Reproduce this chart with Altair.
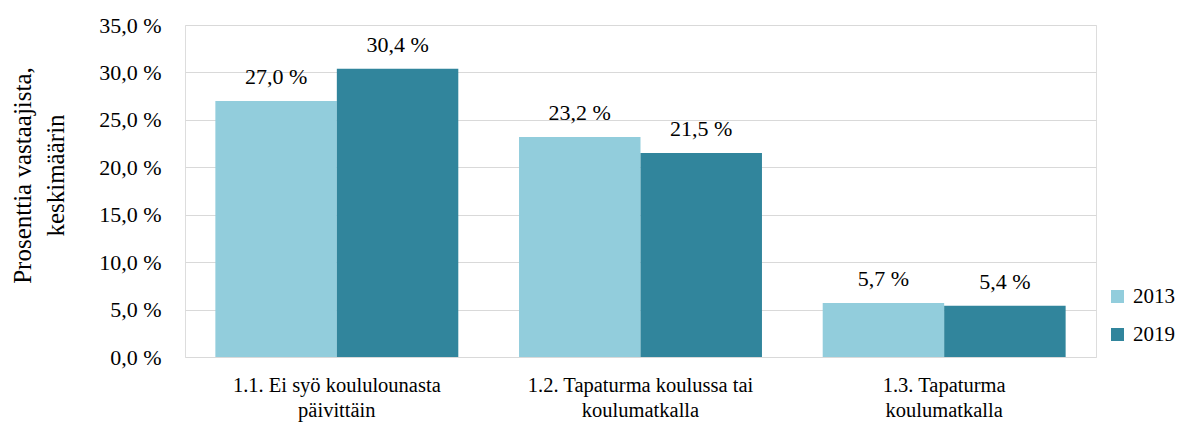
import altair as alt
import pandas as pd

categories = ["1.1. Ei syö koululounasta|päivittäin",
              "1.2. Tapaturma koulussa tai|koulumatkalla",
              "1.3. Tapaturma|koulumatkalla"]
years = ["2013", "2019"]
values_2013 = [27.0, 23.2, 5.7]
values_2019 = [30.4, 21.5, 5.4]
colors = ["#92CDDC", "#31859C"]

rows = []
for c, a, b in zip(categories, values_2013, values_2019):
    rows.append({"cat": c, "year": "2013", "v": a})
    rows.append({"cat": c, "year": "2019", "v": b})
df = pd.DataFrame(rows)

FONT = "Liberation Serif"

base = alt.Chart(df).encode(
    x=alt.X("cat:N", sort=categories, title=None,
            scale=alt.Scale(paddingInner=0.2, paddingOuter=0.1),
            axis=alt.Axis(labelExpr="split(datum.label, '|')", labelAngle=0,
                          labelFont=FONT, labelFontSize=20.5, labelColor="#000000",
                          labelPadding=18, ticks=False, domain=False,
                          labelLineHeight=25, labelLimit=400)),
    xOffset=alt.XOffset("year:N", sort=years, scale=alt.Scale(paddingInner=0, paddingOuter=0)),
)

bars = base.mark_bar().encode(
    y=alt.Y("v:Q", scale=alt.Scale(domain=[0, 35]),
            title=["Prosenttia vastaajista,", "keskimäärin"],
            axis=alt.Axis(values=[0, 5, 10, 15, 20, 25, 30, 35],
                          labelExpr="replace(format(datum.value, '.1f'), '.', ',') + ' %'",
                          labelFont=FONT, labelFontSize=22, labelColor="#000000",
                          labelPadding=24, ticks=False, domain=False,
                          gridColor="#d9d9d9", gridWidth=1,
                          titleFont=FONT, titleFontSize=25, titleFontWeight="normal",
                          titleColor="#000000", titlePadding=30, titleLineHeight=33,
                          titleY=150)),
    color=alt.Color("year:N", sort=years,
                    scale=alt.Scale(domain=years, range=colors),
                    legend=alt.Legend(title=None, orient="none", legendX=922, legendY=261,
                                      symbolType="square", symbolSize=170,
                                      symbolStrokeWidth=0, padding=0,
                                      labelFont=FONT, labelFontSize=21, labelColor="#000000",
                                      rowPadding=16, labelOffset=5)),
)

labels = base.mark_text(baseline="bottom", dy=-12, font=FONT, fontSize=22, color="#000000").encode(
    y=alt.Y("v:Q"),
    text=alt.Text("lbl:N"),
).transform_calculate(lbl="replace(format(datum.v, '.1f'), '.', ',') + ' %'")

chart = alt.layer(bars, labels).properties(
    width=911, height=332,
    autosize=alt.AutoSizeParams(type="none"),
    padding={"left": 177, "top": 17, "right": 80, "bottom": 65},
).configure_view(stroke="#d9d9d9", strokeWidth=1.5).configure(background="white")

chart.save("out.html", embed_options={"renderer": "svg", "actions": False})
